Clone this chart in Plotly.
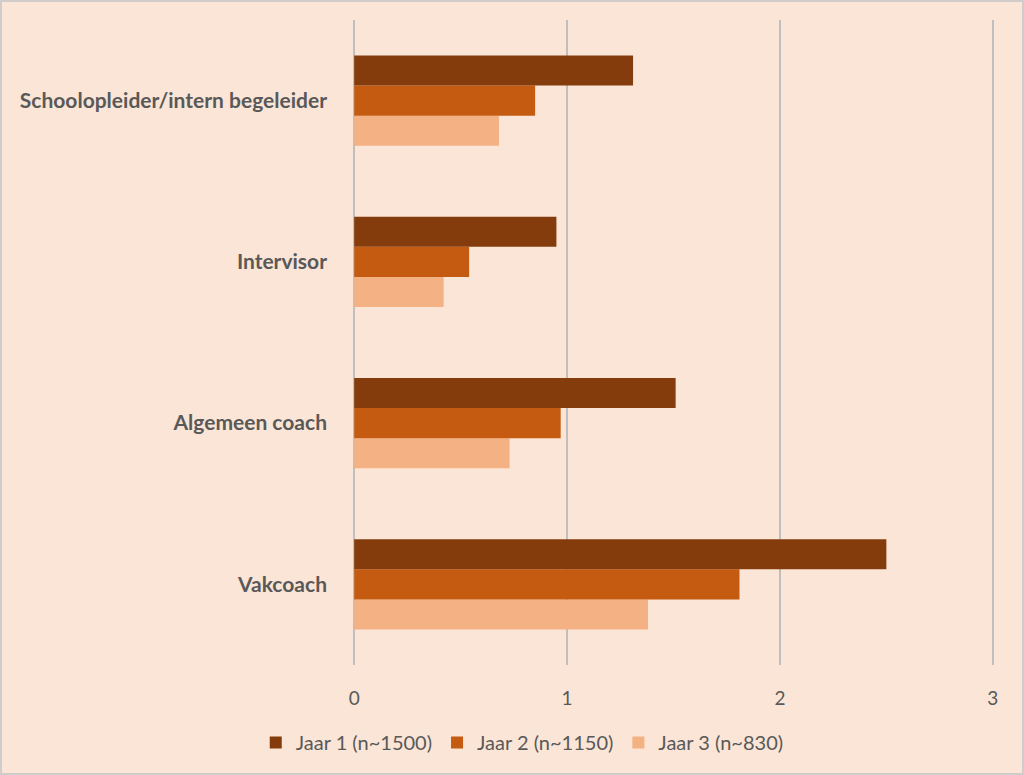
import plotly.graph_objects as go

# ================================
# DATA
# ================================
categories = ["Vakcoach", "Algemeen coach", "Intervisor", "Schoolopleider/intern begeleider"]
jaar1 = [2.50, 1.51, 0.95, 1.31]
jaar2 = [1.81, 0.97, 0.54, 0.85]
jaar3 = [1.38, 0.73, 0.42, 0.68]
series_names = ["Jaar 1 (n~1500)", "Jaar 2 (n~1150)", "Jaar 3 (n~830)"]
x_ticks = [0, 1, 2, 3]

# ================================
# CONFIG
# ================================
W, H = 1024, 775
ml, mr, mt, mb = 351, 28, 20, 110
bg = "#FBE5D6"
colors = ["#843C0C", "#C55A11", "#F4B183"]
font_family = "Lato, 'Open Sans', sans-serif"

fig = go.Figure()

# plotly stacks grouped hbars bottom-up, so add Jaar 3 first
for vals, name, col, rank in [(jaar3, series_names[2], colors[2], 3),
                              (jaar2, series_names[1], colors[1], 2),
                              (jaar1, series_names[0], colors[0], 1)]:
    fig.add_trace(go.Bar(
        y=categories,
        x=vals,
        name=name,
        orientation="h",
        marker=dict(color=col, line=dict(width=0)),
        legendrank=rank,
    ))

# outer border of the chart
pw = W - ml - mr
ph = H - mt - mb
fig.add_shape(
    type="rect", xref="paper", yref="paper",
    x0=(-ml + 1) / pw, x1=(W - ml - 1) / pw,
    y0=(ph - (H - mt) + 1) / ph, y1=(ph + mt - 1) / ph,
    line=dict(color="#D0CCC9", width=2), layer="below",
)

fig.update_layout(
    width=W, height=H,
    margin=dict(l=ml, r=mr, t=mt, b=mb),
    paper_bgcolor=bg, plot_bgcolor=bg,
    barmode="group",
    bargap=0.44,
    bargroupgap=0,
    font=dict(family=font_family, color="#595959", size=16),
    xaxis=dict(
        range=[-0.015, 3.015],
        tickvals=x_ticks,
        showgrid=True, gridcolor="#BFBFBF", gridwidth=2,
        zeroline=False, showline=False,
        tickfont=dict(size=19, color="#595959"),
        ticklabelstandoff=20,
        fixedrange=True,
    ),
    yaxis=dict(
        showgrid=False, zeroline=False, showline=False,
        tickfont=dict(size=21, color="#595959", weight="bold"),
        ticklabelstandoff=23,
        categoryorder="array", categoryarray=categories,
    ),
    legend=dict(
        orientation="h",
        x=0.51, xanchor="center",
        xref="container",
        y=0.042, yanchor="middle", yref="container",
        font=dict(size=20, color="#595959"),
        itemwidth=30,
        bgcolor="rgba(0,0,0,0)",
    ),
    showlegend=True,
)

fig.write_html("out.html", config={"displayModeBar": False},
               post_script="document.body.style.margin='0';")
